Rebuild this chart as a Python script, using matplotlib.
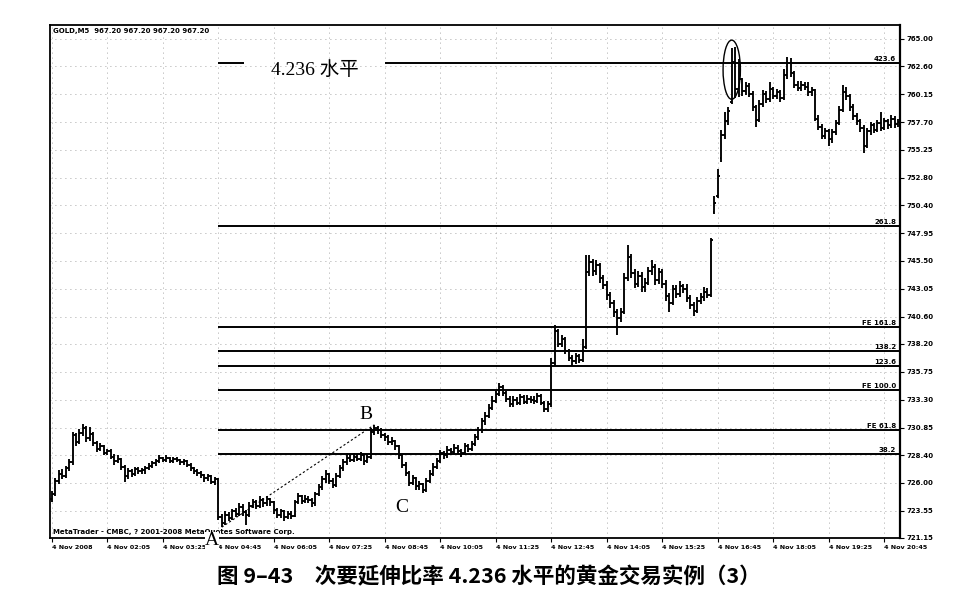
import matplotlib
matplotlib.use('Agg')
import matplotlib.pyplot as plt
from matplotlib.collections import LineCollection
from matplotlib.patches import Ellipse
import numpy as np

plt.rcParams['font.family'] = ['DejaVu Sans', 'Noto Sans CJK SC']

symbol_title = "GOLD,M5  967.20 967.20 967.20 967.20"
copyright_text = "MetaTrader - CMBC, ? 2001-2008 MetaQuotes Software Corp."
caption = "图 9–43　次要延伸比率 4.236 水平的黄金交易实例（3）"
level_note = "4.236 水平"

time_labels = ["4 Nov 2008", "4 Nov 02:05", "4 Nov 03:25", "4 Nov 04:45", "4 Nov 06:05",
               "4 Nov 07:25", "4 Nov 08:45", "4 Nov 10:05", "4 Nov 11:25", "4 Nov 12:45",
               "4 Nov 14:05", "4 Nov 15:25", "4 Nov 16:45", "4 Nov 18:05", "4 Nov 19:25",
               "4 Nov 20:45"]
bars_per_label = 16

price_ticks = [765.00, 762.60, 760.15, 757.70, 755.25, 752.80, 750.40, 747.95, 745.50,
               743.05, 740.60, 738.20, 735.75, 733.30, 730.85, 728.40, 726.00, 723.55, 721.15]
price_tick_labels = ["765.00", "762.60", "760.15", "757.70", "755.25", "752.80", "750.40",
                     "747.95", "745.50", "743.05", "740.60", "738.20", "735.75", "733.30",
                     "730.85", "728.40", "726.00", "723.55", "721.15"]

fib_labels = ["423.6", "261.8", "FE 161.8", "138.2", "123.6", "FE 100.0", "FE 61.8", "38.2"]
fib_levels = [762.9, 748.55, 739.7, 737.6, 736.25, 734.15, 730.65, 728.55]

opens = [
    724.6, 725.0, 726.2, 726.8, 726.6, 727.3, 727.8, 730.2, 729.6, 730.4,
    730.8, 729.9, 730.3, 729.5, 729.0, 729.2, 728.6, 728.8, 728.3, 727.9,
    728.1, 727.4, 726.6, 727.0, 726.8, 727.2, 727.0, 727.1, 727.3, 727.5,
    727.7, 727.9, 728.2, 728.0, 728.2, 727.9, 728.1, 728.0, 727.8, 727.9,
    727.6, 727.3, 727.0, 726.9, 726.7, 726.4, 726.6, 726.1, 726.3, 723.0,
    722.5, 723.2, 722.9, 723.5, 723.3, 723.9, 723.4, 723.2, 724.0, 724.3,
    724.0, 724.5, 724.2, 724.6, 724.3, 723.6, 723.2, 723.5, 723.0, 723.3,
    723.1, 724.3, 724.8, 724.4, 724.6, 724.5, 724.2, 725.0, 725.6, 726.3,
    726.8, 726.2, 725.8, 726.6, 727.3, 727.8, 728.2, 728.0, 728.3, 728.1,
    728.4, 727.9, 728.3, 730.5, 730.8, 730.6, 730.2, 730.0, 729.6, 729.7,
    729.2, 728.4, 727.6, 726.9, 726.0, 726.4, 725.7, 725.9, 725.4, 726.2,
    726.8, 727.4, 727.9, 728.6, 728.4, 728.9, 728.7, 729.1, 728.8, 728.6,
    729.2, 729.0, 729.4, 730.0, 730.6, 731.4, 731.9, 732.6, 733.2, 733.8,
    734.4, 733.9, 733.4, 732.9, 733.3, 733.0, 733.5, 733.1, 733.4, 733.3,
    733.2, 733.6, 733.0, 732.5, 732.9, 736.5, 739.3, 738.2, 738.6, 737.6,
    737.0, 736.7, 737.1, 736.8, 737.9, 744.5, 745.4, 744.6, 745.1, 744.0,
    743.4, 742.5, 741.8, 741.0, 740.5, 741.0, 744.0, 745.8, 744.4, 743.5,
    744.2, 743.2, 743.6, 744.6, 745.0, 743.8, 744.5, 743.5, 742.4, 741.8,
    743.0, 742.6, 743.3, 743.0, 742.2, 741.6, 741.1, 742.0, 742.3, 742.8,
    742.5, 749.8, 751.2, 754.5, 756.6, 757.8, 759.5, 763.0, 760.6, 761.5,
    760.4, 760.9, 760.2, 759.0, 757.9, 759.3, 760.2, 759.7, 760.6, 760.0,
    760.3, 759.8, 761.8, 762.9, 762.0, 761.0, 760.7, 761.0, 760.8, 760.3,
    760.5, 758.0, 757.3, 756.5, 756.9, 756.2, 756.8, 757.6, 758.8, 760.3,
    760.0, 759.0, 758.2, 757.8, 757.2, 755.6, 756.9, 757.4, 757.0, 757.6,
    757.2, 757.8, 757.4, 758.0, 757.5]

highs = [
    725.3, 726.4, 727.1, 727.2, 727.5, 728.1, 730.5, 730.4, 730.7, 731.2,
    731.0, 730.9, 730.5, 729.7, 729.5, 729.3, 729.0, 729.0, 728.5, 728.4,
    728.2, 727.6, 727.3, 727.2, 727.4, 727.4, 727.3, 727.5, 727.7, 727.9,
    728.1, 728.4, 728.3, 728.4, 728.3, 728.3, 728.3, 728.1, 728.1, 728.0,
    727.7, 727.4, 727.2, 727.0, 726.8, 726.8, 726.7, 726.5, 726.4, 723.3,
    723.5, 723.4, 723.7, 723.8, 724.2, 724.1, 723.6, 724.3, 724.6, 724.5,
    724.8, 724.7, 724.8, 724.7, 724.4, 723.8, 723.7, 723.6, 723.5, 723.5,
    724.5, 725.1, 724.9, 724.9, 724.8, 724.7, 725.2, 725.9, 726.6, 727.1,
    726.9, 726.4, 726.9, 727.6, 728.1, 728.6, 728.4, 728.6, 728.5, 728.7,
    728.5, 728.5, 730.8, 731.1, 731.0, 730.8, 730.4, 730.2, 730.0, 729.8,
    729.3, 728.5, 727.8, 727.0, 726.7, 726.5, 726.2, 726.0, 726.4, 727.1,
    727.7, 728.2, 728.9, 728.8, 729.2, 729.1, 729.4, 729.3, 729.0, 729.5,
    729.4, 729.7, 730.3, 730.9, 731.7, 732.2, 732.9, 733.6, 734.1, 734.8,
    734.6, 734.1, 733.6, 733.6, 733.5, 733.8, 733.7, 733.7, 733.6, 733.6,
    733.9, 733.8, 733.2, 733.2, 737.0, 739.9, 739.5, 739.0, 738.8, 737.8,
    737.2, 737.4, 737.3, 738.6, 746.0, 746.0, 745.7, 745.6, 745.3, 744.3,
    743.7, 742.8, 742.1, 741.3, 741.4, 744.4, 746.9, 746.1, 744.8, 744.6,
    744.5, 744.0, 745.0, 745.6, 745.2, 744.9, 744.8, 743.8, 742.7, 743.4,
    743.4, 743.7, 743.5, 743.5, 742.5, 741.9, 742.3, 742.7, 743.2, 743.1,
    747.5, 751.2, 753.6, 757.0, 758.6, 759.0, 764.2, 764.3, 763.2, 761.6,
    761.2, 761.1, 760.4, 759.2, 759.6, 760.5, 760.4, 761.2, 760.8, 760.6,
    760.5, 762.4, 763.4, 763.3, 762.2, 761.3, 761.3, 761.2, 761.2, 760.8,
    760.6, 758.3, 757.5, 757.2, 757.1, 757.1, 757.9, 759.1, 761.0, 760.8,
    760.2, 759.3, 758.5, 758.0, 757.4, 757.2, 757.7, 757.6, 757.9, 758.6,
    758.1, 758.0, 758.3, 758.2, 758.0]

lows = [
    724.3, 724.8, 725.9, 726.3, 726.4, 727.0, 727.6, 729.2, 729.4, 730.1,
    729.6, 729.7, 729.2, 728.7, 728.8, 728.4, 728.4, 728.1, 727.6, 727.7,
    727.1, 726.1, 726.3, 726.5, 726.6, 726.8, 726.8, 726.8, 727.1, 727.3,
    727.5, 727.7, 727.8, 727.8, 727.7, 727.7, 727.8, 727.6, 727.6, 727.4,
    727.0, 726.8, 726.6, 726.4, 726.1, 726.2, 725.9, 725.8, 722.7, 722.1,
    722.3, 722.6, 722.7, 723.0, 723.1, 723.1, 722.3, 723.0, 723.8, 723.7,
    723.8, 723.9, 724.0, 724.0, 723.3, 722.9, 722.9, 722.6, 722.8, 722.8,
    723.0, 724.1, 724.1, 724.2, 724.2, 723.9, 724.0, 724.8, 725.4, 726.0,
    725.9, 725.5, 725.6, 726.4, 727.0, 727.6, 727.8, 727.8, 727.9, 727.9,
    727.6, 727.7, 728.1, 730.2, 730.3, 729.9, 729.7, 729.3, 729.3, 728.9,
    728.1, 727.3, 726.6, 725.7, 725.8, 725.4, 725.4, 725.1, 725.2, 726.0,
    726.6, 727.2, 727.7, 728.1, 728.2, 728.4, 728.5, 728.5, 728.3, 728.4,
    728.7, 728.8, 729.2, 729.8, 730.4, 731.1, 731.7, 732.4, 733.0, 733.6,
    733.6, 733.1, 732.7, 732.7, 732.8, 732.8, 732.9, 732.9, 733.0, 732.9,
    733.0, 732.8, 732.2, 732.2, 732.7, 736.3, 737.9, 737.9, 737.3, 736.7,
    736.3, 736.4, 736.5, 736.6, 737.8, 744.2, 744.2, 744.3, 743.6, 743.0,
    742.1, 741.4, 740.6, 739.0, 740.1, 740.8, 743.7, 744.0, 743.1, 743.2,
    742.8, 742.8, 743.4, 744.3, 743.4, 743.5, 743.1, 742.0, 741.0, 741.6,
    742.2, 742.3, 742.7, 741.9, 741.3, 740.7, 740.9, 741.7, 742.0, 742.2,
    742.3, 749.6, 751.0, 754.2, 756.2, 757.4, 759.3, 759.8, 759.9, 760.0,
    760.1, 759.9, 758.7, 757.3, 757.7, 759.0, 759.4, 759.5, 759.7, 759.7,
    759.5, 759.6, 761.5, 761.7, 760.7, 760.4, 760.4, 760.5, 760.0, 760.0,
    757.8, 757.0, 756.2, 756.2, 755.6, 755.9, 756.6, 757.4, 758.6, 759.6,
    758.7, 757.9, 757.4, 756.8, 755.0, 755.4, 756.6, 756.7, 756.8, 756.9,
    757.0, 757.1, 757.2, 757.2, 757.3]

closes = [
    725.0, 726.2, 726.8, 726.6, 727.3, 727.8, 730.2, 729.6, 730.4, 730.8,
    729.9, 730.3, 729.5, 729.0, 729.2, 728.6, 728.8, 728.3, 727.9, 728.1,
    727.4, 726.6, 727.0, 726.8, 727.2, 727.0, 727.1, 727.3, 727.5, 727.7,
    727.9, 728.2, 728.0, 728.2, 727.9, 728.1, 728.0, 727.8, 727.9, 727.6,
    727.3, 727.0, 726.9, 726.7, 726.4, 726.6, 726.1, 726.3, 723.0, 722.5,
    723.2, 722.9, 723.5, 723.3, 723.9, 723.4, 723.2, 724.0, 724.3, 724.0,
    724.5, 724.2, 724.6, 724.3, 723.6, 723.2, 723.5, 723.0, 723.3, 723.1,
    724.3, 724.8, 724.4, 724.6, 724.5, 724.2, 725.0, 725.6, 726.3, 726.8,
    726.2, 725.8, 726.6, 727.3, 727.8, 728.2, 728.0, 728.3, 728.1, 728.4,
    727.9, 728.3, 730.5, 730.8, 730.6, 730.2, 730.0, 729.6, 729.7, 729.2,
    728.4, 727.6, 726.9, 726.0, 726.4, 725.7, 725.9, 725.4, 726.2, 726.8,
    727.4, 727.9, 728.6, 728.4, 728.9, 728.7, 729.1, 728.8, 728.6, 729.2,
    729.0, 729.4, 730.0, 730.6, 731.4, 731.9, 732.6, 733.2, 733.8, 734.4,
    733.9, 733.4, 732.9, 733.3, 733.0, 733.5, 733.1, 733.4, 733.3, 733.2,
    733.6, 733.0, 732.5, 732.9, 736.5, 739.3, 738.2, 738.6, 737.6, 737.0,
    736.7, 737.1, 736.8, 737.9, 744.5, 745.4, 744.6, 745.1, 744.0, 743.4,
    742.5, 741.8, 741.0, 740.5, 741.0, 744.0, 745.8, 744.4, 743.5, 744.2,
    743.2, 743.6, 744.6, 745.0, 743.8, 744.5, 743.5, 742.4, 741.8, 743.0,
    742.6, 743.3, 743.0, 742.2, 741.6, 741.1, 742.0, 742.3, 742.8, 742.5,
    747.3, 750.6, 753.0, 756.6, 757.8, 758.7, 763.0, 760.6, 761.5, 760.4,
    760.9, 760.2, 759.0, 757.9, 759.3, 760.2, 759.7, 760.6, 760.0, 760.3,
    759.8, 761.8, 762.9, 762.0, 761.0, 760.7, 761.0, 760.8, 760.3, 760.5,
    758.0, 757.3, 756.5, 756.9, 756.2, 756.8, 757.6, 758.8, 760.3, 760.0,
    759.0, 758.2, 757.8, 757.2, 755.6, 756.9, 757.4, 757.0, 757.6, 757.2,
    757.8, 757.4, 758.0, 757.5, 757.7]

n = min(len(opens), len(highs), len(lows), len(closes))
opens, highs, lows, closes = (np.array(v[:n]) for v in (opens, highs, lows, closes))
xs = np.arange(n)

fig = plt.figure(figsize=(9.8, 5.99), dpi=100)
fig.patch.set_facecolor('white')
ax = fig.add_axes([50 / 980, 1 - 538 / 599, 850 / 980, 513 / 599])

segs = []
for i in range(n):
    segs.append([(xs[i], lows[i]), (xs[i], highs[i])])
    segs.append([(xs[i] - 0.5, opens[i]), (xs[i], opens[i])])
    segs.append([(xs[i], closes[i]), (xs[i] + 0.5, closes[i])])
ax.add_collection(LineCollection(segs, colors='black', linewidths=1.35, zorder=3))

ax.set_xlim(-0.5, n - 0.5)
ax.set_ylim(721.15, 766.23)

# key points
jA = 40 + int(np.argmin(lows[40:60]))
jB = 80 + int(np.argmax(highs[80:100]))
jC = 100 + int(np.argmin(lows[100:115]))
jP = 190 + int(np.argmax(highs[190:200]))

# axes, ticks, grid
xt = np.arange(0, n, bars_per_label)[:len(time_labels)]
ax.set_xticks(xt)
ax.set_xticklabels(time_labels[:len(xt)], ha='left', fontsize=4.6, fontweight='bold')
ax.yaxis.tick_right()
ax.set_yticks(price_ticks)
ax.set_yticklabels(price_tick_labels, fontsize=5, fontweight='bold')
ax.tick_params(axis='x', direction='out', length=3, width=0.8, pad=2)
ax.tick_params(axis='y', direction='out', length=3, width=0.8, pad=1.5)
ax.grid(True, linestyle=(0, (1, 5)), color='#8a8a8a', linewidth=0.6, zorder=0)
for s in ax.spines.values():
    s.set_linewidth(1.3)
ax.spines['right'].set_linewidth(1.6)

# fibonacci expansion levels
x_start = jA - 1
x_end = n - 0.5
gap_lo, gap_hi = 55.5, 96
for lab, lev in zip(fib_labels, fib_levels):
    if lab == "423.6":
        ax.hlines(lev, x_start, gap_lo, colors='black', linewidth=1.4, zorder=4)
        ax.hlines(lev, gap_hi, x_end, colors='black', linewidth=1.4, zorder=4)
    else:
        ax.hlines(lev, x_start, x_end, colors='black', linewidth=1.4, zorder=4)
    ax.text(n - 1.6, lev + 0.1, lab, ha='right', va='bottom', fontsize=5,
            fontweight='bold', zorder=5)

ax.text((gap_lo + gap_hi) / 2, fib_levels[0] - 0.6, level_note, ha='center', va='center',
        fontsize=14, family=['Liberation Serif', 'Noto Sans CJK SC'], zorder=5)

# A-B dashed line and labels
ax.plot([jA, jB], [lows[jA], highs[jB]], linestyle=(0, (2, 2)), color='black',
        linewidth=0.8, zorder=4)
serif = ['Liberation Serif', 'DejaVu Serif']
ax.text(jA - 2.7, lows[jA] - 1.15, 'A', ha='center', va='center', fontsize=14, family=serif,
        zorder=6, clip_on=False,
        bbox=dict(boxstyle='square,pad=0.0', fc='white', ec='none'))
ax.text(jB - 2.4, highs[jB] + 0.9, 'B', ha='center', va='center', fontsize=14,
        family=serif, zorder=6)
ax.text(jC - 6, lows[jC] - 1.3, 'C', ha='center', va='center', fontsize=14,
        family=serif, zorder=6)

# circle around the spike
ax.add_patch(Ellipse((jP - 1, highs[jP] - 2.0), width=5.0, height=5.2, fill=False,
                     edgecolor='black', linewidth=1.0, zorder=5))

# chart header / footer texts
ax.text(0.004, 0.994, symbol_title, transform=ax.transAxes, ha='left', va='top',
        fontsize=5, fontweight='bold', zorder=6)
ax.text(0.004, 0.006, copyright_text, transform=ax.transAxes, ha='left', va='bottom',
        fontsize=5, fontweight='bold', zorder=5)

fig.text(489 / 980, 1 - 577 / 599, caption, ha='center', va='center', fontsize=15.5,
         fontweight='bold', family=['Noto Sans CJK SC', 'DejaVu Sans'])

fig.savefig('out.png', dpi=100, facecolor='white')
